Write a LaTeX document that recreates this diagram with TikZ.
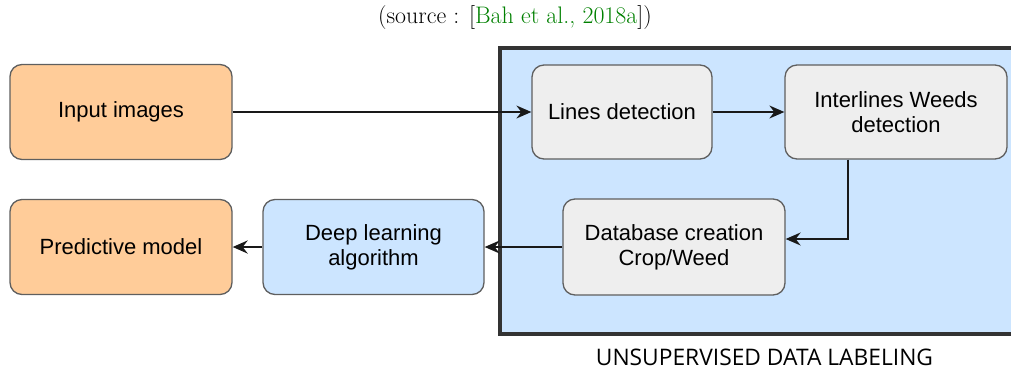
\documentclass[tikz,border=0pt]{standalone}
\usepackage{fontspec}
\setmainfont{Latin Modern Roman}
\newfontfamily\boxfont{Liberation Sans}
\newfontfamily\labfont{Open Sans}
\usetikzlibrary{arrows.meta}
\definecolor{orangefill}{HTML}{FFCC99}
\definecolor{grayfill}{HTML}{EEEEEE}
\definecolor{bluefill}{HTML}{CCE5FF}
\definecolor{boxline}{HTML}{5F5F5F}
\definecolor{frameline}{HTML}{333333}
\definecolor{citegreen}{rgb}{0,0.5,0}
\tikzset{
  pbox/.style={draw=boxline, line width=1.3pt, rounded corners=12pt, inner sep=0pt,
    align=center, font=\boxfont\fontsize{22}{25}\selectfont, text=black},
  orangebox/.style={pbox, fill=orangefill},
  graybox/.style={pbox, fill=grayfill},
  bluebox/.style={pbox, fill=bluefill},
  conn/.style={line width=1.5pt, black!90, -{Stealth[length=15pt,width=13pt,inset=5pt]}},
  thickconn/.style={conn, line width=2.5pt},
}
\begin{document}
\begin{tikzpicture}[x=1pt,y=-1pt]
\useasboundingbox (0,0) rectangle (1011,370);
\clip (0,0) rectangle (1011,370);
\node[font=\fontsize{23.9}{28}\selectfont, text=black] (cap) at (515,18) {(source : [\textcolor{citegreen}{Bah et al., 2018a}])};
% frame
\draw[fill=bluefill, draw=frameline, line width=4.5pt] (500,48) rectangle (1030,334);
\node[font=\labfont\fontsize{22.8}{26}\selectfont, text=black] (lab) at (764.5,357) {UNSUPERVISED DATA LABELING};
% boxes
\node[orangebox, minimum width=222pt, minimum height=95pt] (inp) at (121,112) {Input images};
\node[orangebox, minimum width=222pt, minimum height=95pt] (pred) at (121,247) {Predictive model};
\node[bluebox, minimum width=221pt, minimum height=95pt] (deep) at (373.5,247) {Deep learning\\algorithm};
\node[graybox, minimum width=180pt, minimum height=94pt] (lines) at (622,112) {Lines detection};
\node[graybox, minimum width=222pt, minimum height=94pt] (inter) at (896,112) {Interlines Weeds\\detection};
\node[graybox, minimum width=222pt, minimum height=96pt] (db) at (674,247) {Database creation\\Crop/Weed};
% connectors
\draw[conn] (inp) -- (lines);
\draw[conn] (lines) -- (inter);
\draw[conn] (inter.south -| 848,0) |- (db.east |- 0,239);
\draw[conn] (db) -- (deep);
\draw[thickconn] (deep) -- (pred);
\end{tikzpicture}
\end{document}
